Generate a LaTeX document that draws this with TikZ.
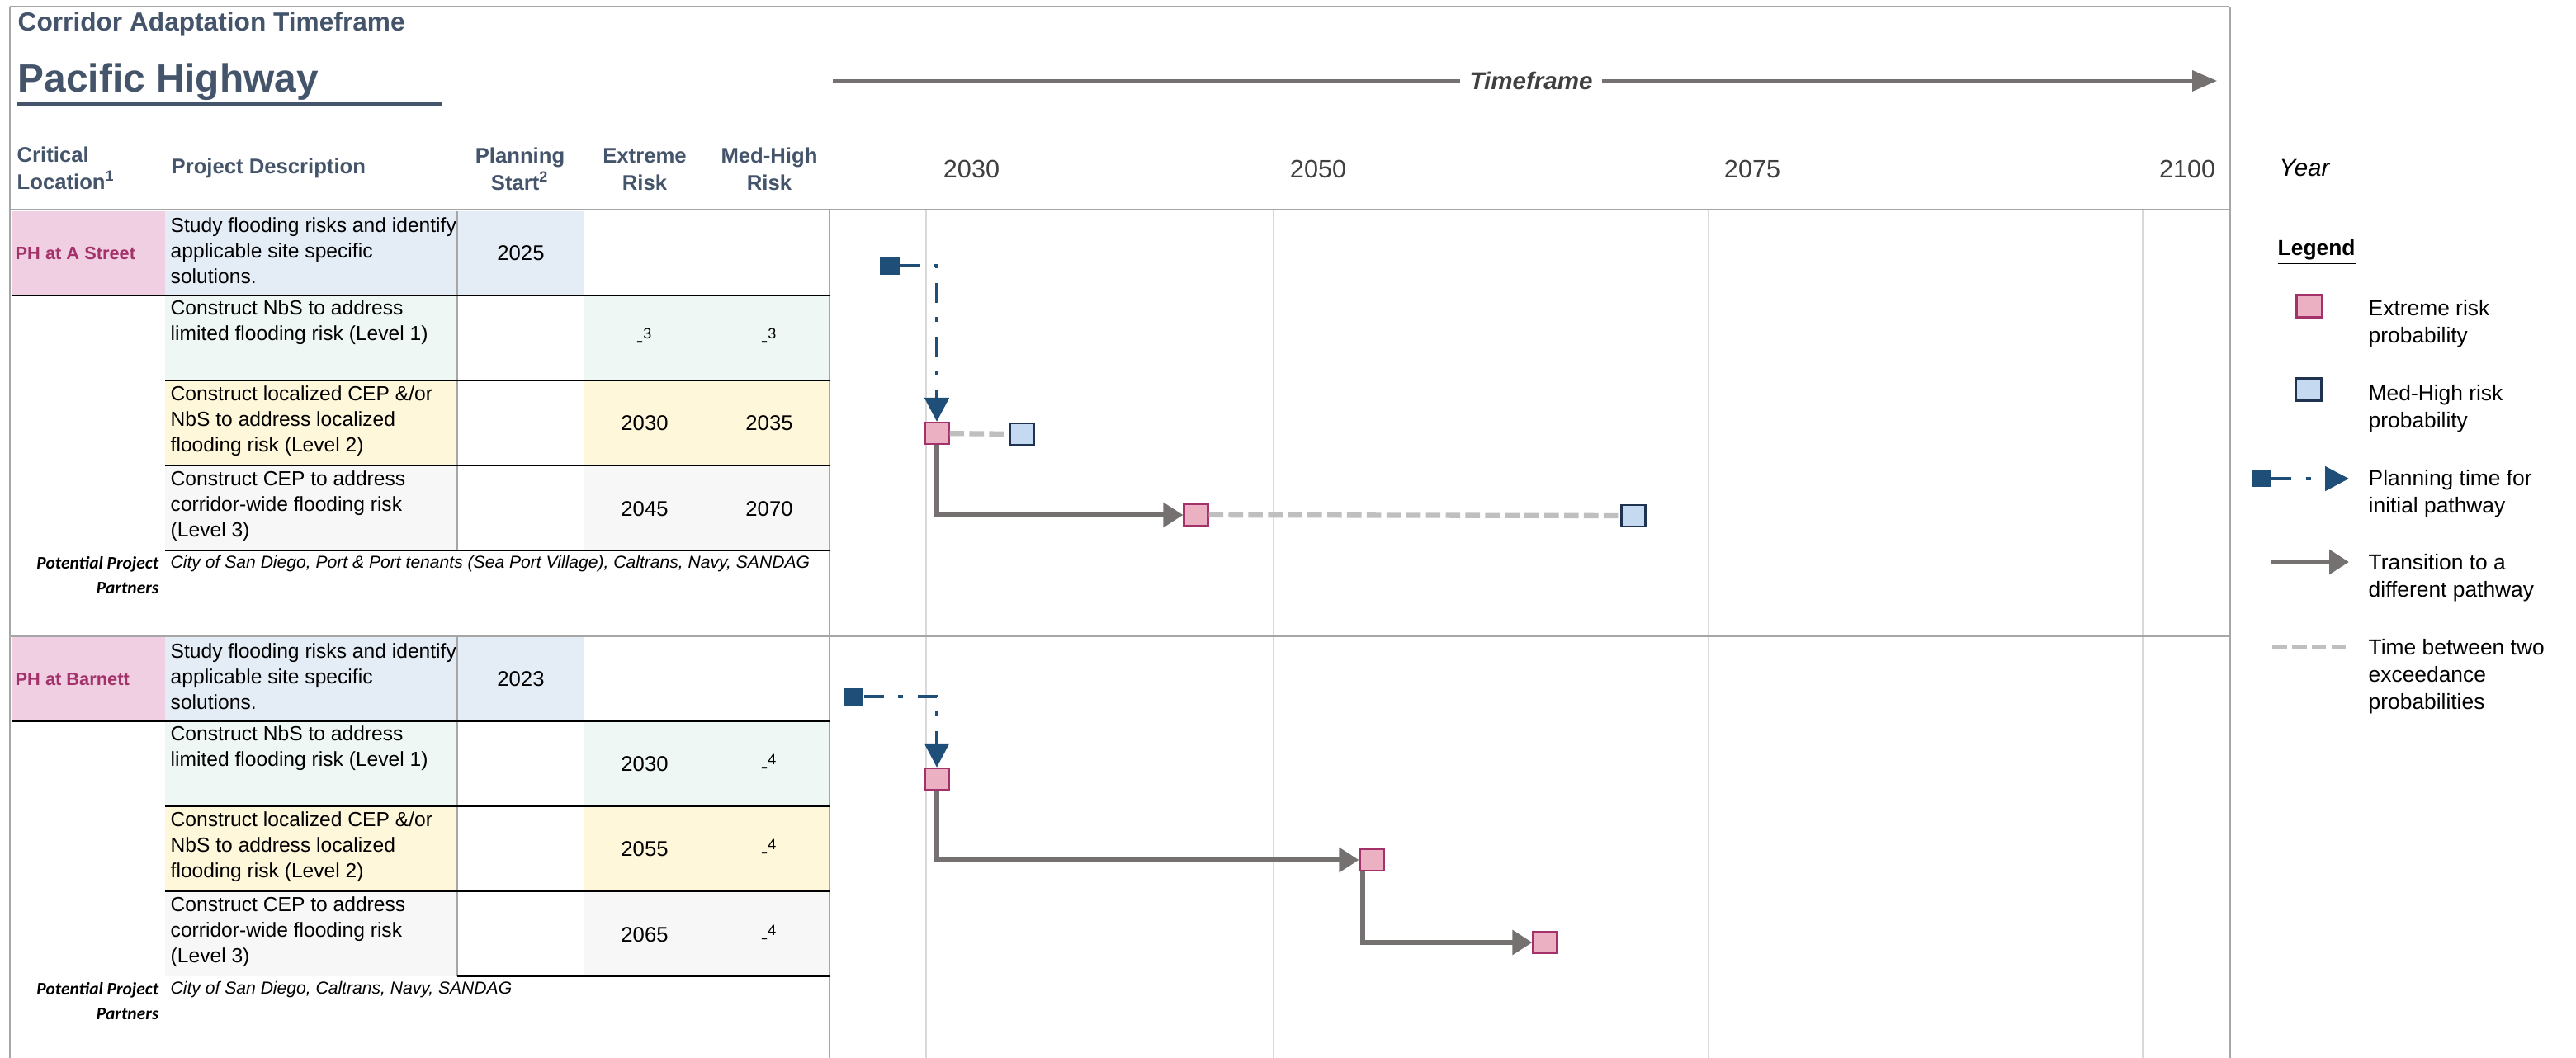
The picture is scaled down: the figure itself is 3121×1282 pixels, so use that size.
\documentclass[tikz,border=0pt]{standalone}
\usepackage{fontspec}
\setmainfont{Liberation Sans}
\newfontfamily\calfont{Carlito}
\usepackage{xcolor}
\usepackage{tikz}
\usetikzlibrary{arrows.meta}
\definecolor{slate}{HTML}{44546A}
\definecolor{plum}{HTML}{A3326A}
\definecolor{locpink}{HTML}{EFCFE1}
\definecolor{cellblue}{HTML}{E4ECF6}
\definecolor{cellmint}{HTML}{EEF7F3}
\definecolor{cellyellow}{HTML}{FFF7DA}
\definecolor{cellgray}{HTML}{F7F7F7}
\definecolor{framegray}{HTML}{A6A6A6}
\definecolor{gridgray}{HTML}{D9D9D9}
\definecolor{yeargray}{HTML}{404040}
\definecolor{pinkbox}{HTML}{EBB1C3}
\definecolor{bluebox}{HTML}{C5DAF0}
\definecolor{navyline}{HTML}{1F3350}
\definecolor{planblue}{HTML}{1F4E79}
\definecolor{transgray}{HTML}{767171}
\definecolor{gapgray}{HTML}{BFBFBF}

\begin{document}
\begin{tikzpicture}[x=0.01cm,y=-0.01cm,
  txt/.style={font=\fontsize{7}{8.8}\selectfont,align=left,anchor=west,inner sep=0pt},
  hdr/.style={font=\fontsize{7.3}{9.4}\bfseries\selectfont,text=slate,align=center,inner sep=0pt},
  val/.style={font=\fontsize{7.3}{9}\selectfont,inner sep=0pt},
  yr/.style={font=\fontsize{8.7}{10}\selectfont,text=yeargray,inner sep=0pt},
  lgd/.style={font=\fontsize{7.5}{9.4}\selectfont,align=left,anchor=west,inner sep=0pt},
  loc/.style={font=\fontsize{6.2}{7.5}\bfseries\selectfont,text=plum,anchor=west,inner sep=0pt},
  partlbl/.style={font=\calfont\fontsize{6.1}{8.3}\bfseries\itshape\selectfont,align=right,anchor=east,inner sep=0pt},
  parttxt/.style={font=\fontsize{6}{7.5}\itshape\selectfont,anchor=west,inner sep=0pt},
  ext/.style={draw=plum,fill=pinkbox,line width=0.6pt,minimum width=0.29cm,minimum height=0.26cm,inner sep=0pt},
  med/.style={draw=navyline,fill=bluebox,line width=0.6pt,minimum width=0.29cm,minimum height=0.26cm,inner sep=0pt},
  plan/.style={fill=planblue,minimum width=0.24cm,minimum height=0.21cm,inner sep=0pt},
  planarrow/.style={draw=planblue,line width=1.4pt,dash pattern=on 6.8pt off 5pt on 1.7pt off 5pt,-{Triangle[length=0.29cm,width=0.29cm]}},
  transarrow/.style={draw=transgray,line width=1.7pt,-{Triangle[length=0.24cm,width=0.29cm]}},
  gapline/.style={draw=gapgray,line width=1.8pt,dash pattern=on 5pt off 1.8pt},
  framerule/.style={draw=framegray,line width=0.85pt},
  gridrule/.style={draw=gridgray,line width=0.6pt},
  colrule/.style={draw=framegray,line width=0.6pt},
  rowrule/.style={draw=black,line width=0.5pt}]
\useasboundingbox (0,0) rectangle (3121,1282);

\fill[locpink] (14,256) rectangle (200,358);
\fill[cellblue] (200,256) rectangle (707,358);
\fill[cellmint] (200,358) rectangle (554,461);
\fill[cellmint] (707,358) rectangle (1005,461);
\fill[cellyellow] (200,461) rectangle (554,564);
\fill[cellyellow] (707,461) rectangle (1005,564);
\fill[cellgray] (200,564) rectangle (554,667);
\fill[cellgray] (707,564) rectangle (1005,667);
\begin{scope}[shift={(0,516)}]
\fill[locpink] (14,256) rectangle (200,358);
\fill[cellblue] (200,256) rectangle (707,358);
\fill[cellmint] (200,358) rectangle (554,461);
\fill[cellmint] (707,358) rectangle (1005,461);
\fill[cellyellow] (200,461) rectangle (554,564);
\fill[cellyellow] (707,461) rectangle (1005,564);
\fill[cellgray] (200,564) rectangle (554,667);
\fill[cellgray] (707,564) rectangle (1005,667);
\end{scope}

\draw[gridrule] (1122,255) -- (1122,1282);
\draw[gridrule] (1543,255) -- (1543,1282);
\draw[gridrule] (2070,255) -- (2070,1282);
\draw[gridrule] (2596,255) -- (2596,1282);
\draw[colrule] (1005,254) -- (1005,1282);
\draw[colrule] (554,256) -- (554,667);
\draw[colrule] (554,772) -- (554,1183);
\draw[rowrule] (14,358) -- (1005,358);
\draw[rowrule] (200,461) -- (1005,461);
\draw[rowrule] (200,564) -- (1005,564);
\draw[rowrule] (200,667) -- (1005,667);
\draw[rowrule] (14,874) -- (1005,874);
\draw[rowrule] (200,977) -- (1005,977);
\draw[rowrule] (200,1080) -- (1005,1080);
\draw[rowrule] (554,1183) -- (1005,1183);
\draw[framerule] (12,8) -- (2701,8);
\draw[framerule] (12,8) -- (12,1282);
\draw[framerule] (2701,8) -- (2701,1282);
\draw[framerule] (12,254) -- (2701,254);
\draw[framerule] (12,770) -- (2701,770);

\node[anchor=base west,inner sep=0pt,text=slate,font=\fontsize{9}{11}\bfseries\selectfont] (title) at (21,38) {Corridor Adaptation Timeframe};
\node[anchor=base west,inner sep=0pt,text=slate,font=\fontsize{13.6}{16}\bfseries\selectfont] (corridor) at (21,112) {Pacific Highway};
\draw[slate,line width=1.1pt] (21,126) -- (535,126);
\node[hdr,align=left,anchor=west] (hcrit) at (20,204) {Critical\\Location\textsuperscript{1}};
\node[hdr,anchor=west] (hdesc) at (207,204) {Project Description};
\node[hdr] (hstart) at (630,205) {Planning\\Start\textsuperscript{2}};
\node[hdr] (hext) at (781,205) {Extreme\\Risk};
\node[hdr] (hmed) at (932,205) {Med-High\\Risk};
\node[yr] (y2030) at (1177,205) {2030};
\node[yr] (y2050) at (1597,205) {2050};
\node[yr] (y2075) at (2123,205) {2075};
\node[yr] (y2100) at (2650,205) {2100};
\node[anchor=west,inner sep=0pt,font=\fontsize{8.4}{10}\itshape\selectfont] (year) at (2761,203) {Year};

\node[inner xsep=3pt,inner ysep=0pt,text=yeargray,font=\fontsize{8.4}{10}\bfseries\itshape\selectfont] (tflabel) at (1855,98) {Timeframe};
\coordinate (tfstart) at (1009,98);
\coordinate (tfend) at (2686,98);
\draw[draw=transgray,line width=1.1pt] (tfstart) -- (tflabel);
\draw[draw=transgray,line width=1.1pt,-{Triangle[length=0.3cm,width=0.25cm]}] (tflabel) -- (tfend);

\node[loc] (locA) at (18,307) {PH at A Street};
\node[txt] (studyA) at (206,304) {Study flooding risks and identify\\applicable site specific\\solutions.};
\node[val] (startA) at (631,307) {2025};
\node[txt] (nbsA) at (206,391) {Construct NbS to address\\limited flooding risk (Level 1)};
\node[val] (nbsAext) at (781,410) {-\textsuperscript{3}};
\node[val] (nbsAmed) at (932,410) {-\textsuperscript{3}};
\node[txt] (cepA) at (206,510) {Construct localized CEP \&/or\\NbS to address localized\\flooding risk (Level 2)};
\node[val] (cepAext) at (781,513) {2030};
\node[val] (cepAmed) at (932,513) {2035};
\node[txt] (wideA) at (206,613) {Construct CEP to address\\corridor-wide flooding risk\\(Level 3)};
\node[val] (wideAext) at (781,617) {2045};
\node[val] (wideAmed) at (932,617) {2070};
\node[partlbl] (partA) at (193,697) {Potential Project\\Partners};
\node[parttxt] (partAtxt) at (206,683) {City of San Diego, Port \& Port tenants (Sea Port Village), Caltrans, Navy, SANDAG};

\begin{scope}[shift={(0,516)}]
\node[loc] (locB) at (18,307) {PH at Barnett};
\node[txt] (studyB) at (206,304) {Study flooding risks and identify\\applicable site specific\\solutions.};
\node[val] (startB) at (631,307) {2023};
\node[txt] (nbsB) at (206,391) {Construct NbS to address\\limited flooding risk (Level 1)};
\node[val] (nbsBext) at (781,410) {2030};
\node[val] (nbsBmed) at (932,410) {-\textsuperscript{4}};
\node[txt] (cepB) at (206,510) {Construct localized CEP \&/or\\NbS to address localized\\flooding risk (Level 2)};
\node[val] (cepBext) at (781,513) {2055};
\node[val] (cepBmed) at (932,513) {-\textsuperscript{4}};
\node[txt] (wideB) at (206,613) {Construct CEP to address\\corridor-wide flooding risk\\(Level 3)};
\node[val] (wideBext) at (781,617) {2065};
\node[val] (wideBmed) at (932,617) {-\textsuperscript{4}};
\node[partlbl] (partB) at (193,697) {Potential Project\\Partners};
\node[parttxt] (partBtxt) at (206,683) {City of San Diego, Caltrans, Navy, SANDAG};
\end{scope}

\node[plan] (p1) at (1078,322) {};
\node[ext] (e1) at (1135,525) {};
\node[med] (m1) at (1238,526) {};
\node[ext] (e2) at (1449,624) {};
\node[med] (m2) at (1979,625) {};
\draw[planarrow] (p1) -| (e1);
\draw[gapline] (e1) -- (m1);
\draw[transarrow] (e1) |- (e2);
\draw[gapline] (e2) -- (m2);

\node[plan] (q1) at (1034,844) {};
\node[ext] (f1) at (1135,944) {};
\node[ext] (f2) at (1662,1042) {};
\node[ext] (f3) at (1872,1142) {};
\draw[planarrow] (q1) -| (f1);
\draw[transarrow] (f1) |- (f2);
\draw[transarrow] ([xshift=-0.11cm]f2.south) |- (f3);

\node[anchor=west,inner sep=0pt,font=\fontsize{7.5}{9.4}\bfseries\selectfont] (legend) at (2759,306) {\underline{Legend}};
\node[ext,minimum width=0.31cm,minimum height=0.27cm] (lgext) at (2798,371) {};
\node[lgd] (lgexttxt) at (2869,392) {Extreme risk\\probability};
\node[med,minimum width=0.31cm,minimum height=0.27cm] (lgmed) at (2797,472) {};
\node[lgd] (lgmedtxt) at (2869,495) {Med-High risk\\probability};
\node[plan,minimum width=0.23cm,minimum height=0.19cm] (lgplan) at (2740,580) {};
\coordinate (lgplanend) at (2846,580);
\draw[planarrow] (lgplan) -- (lgplanend);
\node[lgd] (lgplantxt) at (2869,598) {Planning time for\\initial pathway};
\coordinate (lgtransa) at (2752,681);
\coordinate (lgtransb) at (2846,681);
\draw[transarrow] (lgtransa) -- (lgtransb);
\node[lgd] (lgtranstxt) at (2869,700) {Transition to a\\different pathway};
\coordinate (lggapa) at (2753,784);
\coordinate (lggapb) at (2846,784);
\draw[gapline] (lggapa) -- (lggapb);
\node[lgd] (lggaptxt) at (2869,820) {Time between two\\exceedance\\probabilities};
\end{tikzpicture}
\end{document}
